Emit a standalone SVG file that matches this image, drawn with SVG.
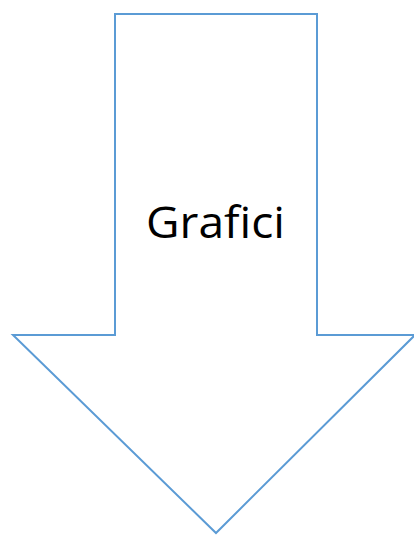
<svg xmlns="http://www.w3.org/2000/svg" width="414" height="535" viewBox="0 0 414 535">
<style>
.arrow{fill:#ffffff;stroke:#5b9bd5;stroke-width:2}
.lbl{font-family:"Open Sans","Liberation Sans",sans-serif;font-size:44px;fill:#000000}
</style>
<rect width="414" height="535" fill="#ffffff"/>
<g id="arrow">
<polygon class="arrow" points="115,14 317,14 317,335 415,335 216,533 13,335 115,335"/>
<text class="lbl" x="215.5" y="238" text-anchor="middle" textLength="139" lengthAdjust="spacingAndGlyphs">Grafici</text>
</g>
</svg>
